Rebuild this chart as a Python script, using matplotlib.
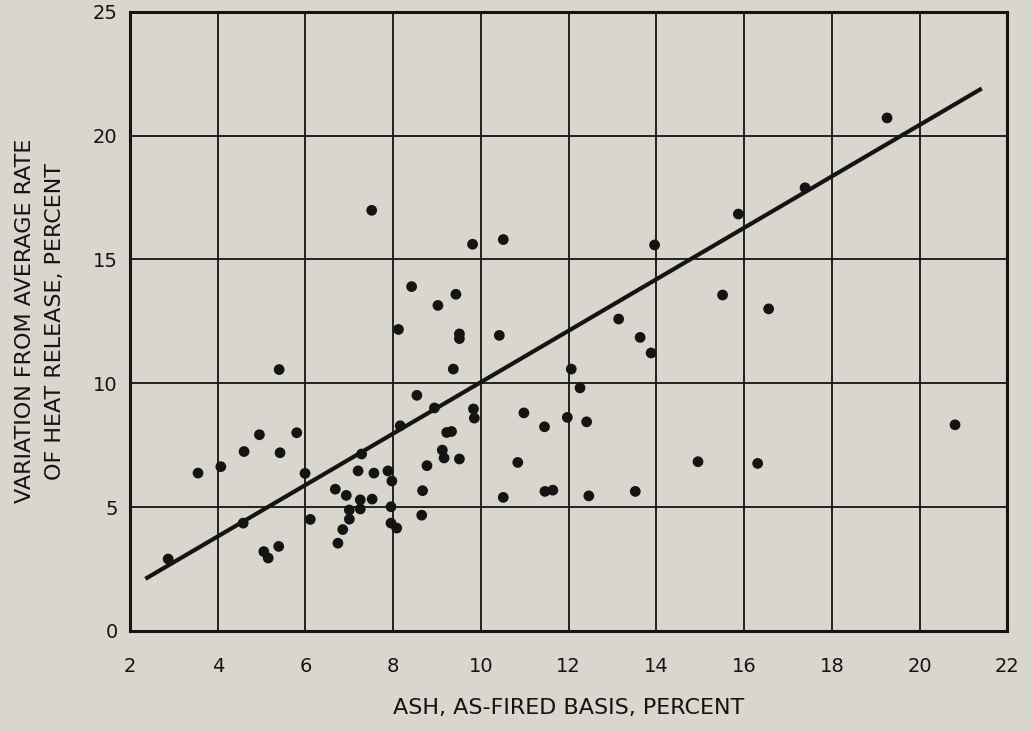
import matplotlib
matplotlib.use("Agg")
import matplotlib.pyplot as plt

# Ash content (x) vs. variation from average heat release rate (y)
ash = [2.87, 3.55, 4.07, 4.58, 4.60, 4.95, 5.05, 5.15, 5.39, 5.40,
       5.42, 5.80, 5.99, 6.11, 6.68, 6.74, 6.85, 6.93, 7.00, 7.00,
       7.20, 7.25, 7.25, 7.28, 7.51, 7.52, 7.56, 7.88, 7.95, 7.95,
       7.97, 8.08, 8.12, 8.16, 8.42, 8.54, 8.65, 8.67, 8.77, 8.94,
       9.02, 9.12, 9.16, 9.22, 9.33, 9.37, 9.43, 9.51, 9.51, 9.51,
       9.81, 9.83, 9.85, 10.42, 10.51, 10.51, 10.84, 10.98, 11.45, 11.46,
       11.64, 11.97, 12.06, 12.26, 12.41, 12.46, 13.14, 13.52, 13.63, 13.88,
       13.96, 14.95, 15.51, 15.87, 16.31, 16.56, 17.39, 19.26, 20.81]
variation = [2.90, 6.37, 6.63, 4.35, 7.24, 7.92, 3.20, 2.94, 3.41, 10.55,
             7.19, 8.00, 6.36, 4.50, 5.72, 3.54, 4.09, 5.47, 4.88, 4.51,
             6.46, 5.29, 4.92, 7.14, 16.98, 5.32, 6.37, 6.46, 5.01, 4.35,
             6.05, 4.15, 12.17, 8.28, 13.90, 9.51, 4.67, 5.66, 6.67, 9.00,
             13.14, 7.30, 6.98, 8.01, 8.05, 10.57, 13.59, 6.94, 11.99, 11.80,
             15.61, 8.96, 8.59, 11.93, 15.80, 5.39, 6.80, 8.80, 8.24, 5.63,
             5.68, 8.62, 10.57, 9.81, 8.44, 5.45, 12.59, 5.63, 11.85, 11.22,
             15.58, 6.83, 13.56, 16.83, 6.76, 13.00, 17.89, 20.71, 8.32]

# fitted straight line (end points)
fit_x = [2.35, 21.42]
fit_y = [2.10, 21.90]

x_ticks = [2, 4, 6, 8, 10, 12, 14, 16, 18, 20, 22]
y_ticks = [0, 5, 10, 15, 20, 25]

bg = "#d9d6ce"
ink = "#141414"

fig = plt.figure(figsize=(10.32, 7.31), dpi=100, facecolor=bg)
ax = fig.add_axes([0.126, 0.137, 0.850, 0.847], facecolor=bg)

ax.grid(True, color=ink, linewidth=1.3)
ax.set_axisbelow(True)

ax.plot(fit_x, fit_y, color=ink, linewidth=3.0, solid_capstyle="butt", zorder=3)
ax.scatter(ash, variation, s=60, color=ink, edgecolors="none", zorder=4)

ax.set_xlim(2, 22)
ax.set_ylim(0, 25)
ax.set_xticks(x_ticks)
ax.set_yticks(y_ticks)
ax.tick_params(length=0, labelsize=14, colors=ink)
ax.tick_params(axis="x", pad=19)
ax.tick_params(axis="y", pad=9)

for sp in ax.spines.values():
    sp.set_color(ink)
    sp.set_linewidth(2.2)

ax.set_xlabel("ASH, AS-FIRED BASIS, PERCENT", fontsize=16, color=ink, labelpad=16)
ax.set_ylabel("VARIATION FROM AVERAGE RATE\nOF HEAT RELEASE, PERCENT",
              fontsize=16, color=ink, labelpad=20, linespacing=1.6)

fig.savefig("out.png", dpi=100, facecolor=bg)
